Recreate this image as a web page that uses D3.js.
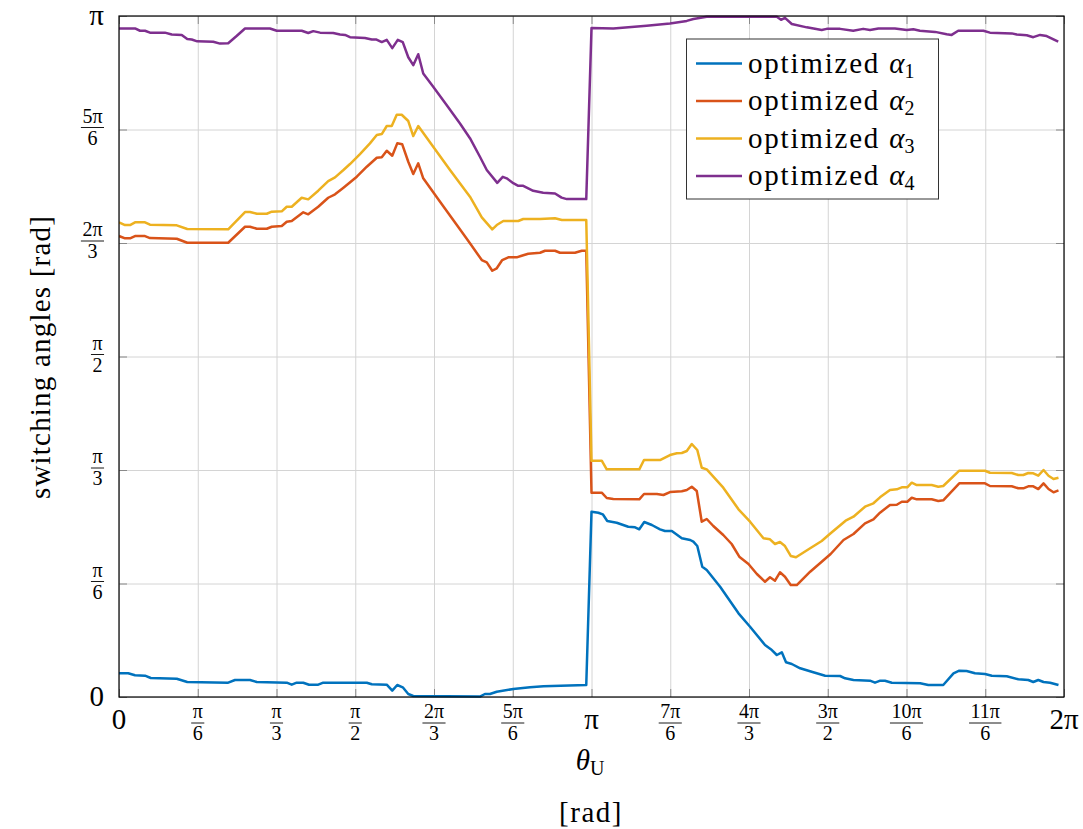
<!DOCTYPE html>
<html>
<head>
<meta charset="utf-8">
<script src="https://cdn.jsdelivr.net/npm/d3@7"></script>
<style>
  body { margin: 0; background: #fff; }
  text { font-family: "Liberation Serif", "DejaVu Serif", serif; fill: #000; }
</style>
</head>
<body>
<svg id="chart" width="1083" height="829"></svg>
<script>
// ---- data (degrees: x = θU, y = switching angle) ----
const xTicks = [0, 30, 60, 90, 120, 150, 180, 210, 240, 270, 300, 330, 360];
const xTickLabels = ["0", "π/6", "π/3", "π/2", "2π/3", "5π/6", "π", "7π/6", "4π/3", "3π/2", "10π/6", "11π/6", "2π"];
const yTicks = [0, 30, 60, 90, 120, 150, 180];
const yTickLabels = ["0", "π/6", "π/3", "π/2", "2π/3", "5π/6", "π"];
const seriesNames = ["optimized α1", "optimized α2", "optimized α3", "optimized α4"];
const seriesColors = ["#0072BD", "#D95319", "#EDB120", "#7E2F8E"];

const alpha1 = [[0,6.26],[3.5,6.26],[6.1,5.74],[9.9,5.63],[12.1,5.02],[22,4.84],[26,3.96],[41.6,3.78],[44.2,4.49],[49.9,4.49],[52.5,3.96],[63.9,3.78],[65.8,3.25],[67.7,3.78],[70.2,3.78],[72.4,3.25],[75.9,3.25],[77.8,3.78],[94.4,3.78],[96.3,3.36],[102,3.25],[104.1,1.67],[106,3.17],[108.1,2.56],[110.2,0.79],[112.1,0.26],[137.5,0.1],[139.4,0.79],[141.3,0.79],[143.9,1.4],[150.2,2.11],[156.6,2.56],[161.7,2.83],[178,3.17],
  [180,48.98],[182.6,48.71],[184.3,48.29],[186,46.52],[189.6,46.07],[194,45.01],[196.6,44.85],[198.2,44.32],[200.1,46.25],[203,45.46],[206.1,44.32],[208,43.87],[210.6,43.87],[214.4,41.95],[217.6,41.5],[218.8,41.05],[220.3,39.91],[222.2,34.44],[223.9,33.57],[229,29.15],[236,22.12],[240.4,18.58],[246.1,13.74],[248.7,12.42],[250.6,11.1],[252.5,11.81],[254.1,9.17],[256.3,8.72],[259.5,7.59],[264.5,6.53],[269,5.63],[274.7,5.55],[276.6,4.94],[279.8,4.49],[286.1,4.31],[288,3.78],[290,4.31],[291.8,4.31],[294.4,3.78],[305.2,3.62],[308.3,3.17],[314,3.17],[317.9,6.26],[320.1,6.95],[322.9,6.87],[326.1,6.26],[329.9,6.08],[332.5,5.63],[338.2,5.47],[342.6,4.68],[346.4,4.49],[348.3,3.96],[350.2,4.49],[352.2,3.96],[354.7,3.78],[357.9,3.17]];

const alpha2 = [[0,121.84],[2.3,121.23],[4.2,121.23],[6.1,121.84],[9.9,121.84],[11.8,121.31],[22,121.13],[26,120.07],[41.6,120.07],[48,124.3],[49.9,124.3],[52.5,123.77],[56.3,123.77],[58.2,124.3],[62,124.49],[63.9,125.62],[65.8,125.81],[70.2,128.11],[72.1,127.58],[75.9,129.59],[79.7,131.96],[82.3,132.86],[85.5,134.61],[90.6,137.52],[94.4,140.16],[98.2,142.54],[100.1,142.64],[102,144.39],[104.1,143.07],[106,146.34],[107.9,146.08],[110.2,141.48],[112.1,138.23],[114,141.06],[115.9,137.09],[122.3,130.91],[128.7,124.75],[133.7,119.91],[138.2,115.5],[140.1,114.89],[142.2,112.67],[143.9,113.31],[146,115.5],[148.3,116.21],[151.5,116.21],[153.4,116.64],[155.9,117.16],[160.4,117.43],[162.3,117.96],[166.1,117.96],[168,117.43],[173.7,117.43],[176.3,117.96],[178,117.96],
  [180,54.0],[183.9,54.0],[185.8,52.6],[188.3,52.33],[198.2,52.25],[200,53.65],[204.9,53.65],[207.4,53.39],[209.9,54.18],[214.4,54.37],[216.3,54.71],[218.2,55.58],[220.1,54.45],[222,46.33],[223.9,47.05],[226.4,45.2],[230.2,42.82],[233.4,40.44],[236.3,37.08],[239.8,35.15],[243,32.51],[246.1,30.47],[248,31.64],[249.9,30.74],[251.8,32.96],[253.7,31.8],[255.9,29.6],[258.2,29.6],[263.3,33.12],[267.7,35.76],[271.1,37.79],[276,41.5],[279.8,43.08],[284.2,45.91],[287.4,46.97],[289.9,48.71],[293.7,50.75],[296.3,50.82],[298.2,51.62],[300.3,51.62],[302,52.67],[303.9,52.25],[309.6,52.25],[312.1,51.8],[314,51.99],[320.1,56.48],[329.9,56.48],[331.8,55.77],[340.1,55.69],[342.6,55.16],[344.5,55.16],[346.4,55.69],[348.3,55.69],[350.2,54.97],[352.2,56.48],[354.1,54.97],[356,54.1],[357.9,54.63]];

const alpha3 = [[0,125.47],[2.3,124.75],[4.2,124.75],[6.1,125.47],[9.9,125.47],[11.8,124.83],[22,124.67],[26,123.69],[41.6,123.61],[48,128.19],[49.9,128.19],[52.5,127.74],[56.3,127.74],[58.2,128.27],[62,128.37],[63.9,129.59],[65.8,129.59],[69.6,131.96],[72.1,131.54],[75.9,133.82],[79.7,136.38],[82.3,137.36],[85.5,139.29],[88,140.87],[91.8,143.51],[95.6,146.34],[98.2,148.54],[100.1,148.8],[102,150.92],[103.9,150.92],[105.8,153.9],[107.7,153.9],[110.2,152.24],[112.1,148.27],[114,150.92],[119.7,145.44],[126.1,139.29],[133.7,132.23],[138.2,126.78],[142.2,123.61],[143.9,124.75],[146.4,125.81],[152.1,125.81],[154,126.34],[160.4,126.34],[166.1,126.52],[168.7,126.07],[178,126.07],
  [180,62.45],[183.9,62.45],[185.8,60.18],[198.2,60.18],[200,62.64],[206.1,62.64],[209.9,63.96],[212.5,64.41],[214.4,64.49],[216.3,65.02],[218.2,66.87],[220.3,65.28],[222,60.6],[223.9,60.18],[230.2,55.32],[236,49.61],[240.4,46.33],[245.5,41.95],[248,41.68],[249.9,40.44],[251.8,40.97],[253.7,39.91],[255.9,37.27],[257.9,36.92],[263.3,39.3],[267.7,41.23],[271.1,43.27],[276.8,46.6],[279.8,47.65],[284.2,50.3],[287.4,51.2],[289.9,52.78],[293.7,54.71],[296.3,54.9],[298.2,55.42],[300.3,55.42],[302,56.64],[303.9,56.03],[309.6,56.03],[312.1,55.58],[314,55.77],[320.1,59.81],[329.9,59.81],[331.8,59.28],[340.1,59.2],[342.6,58.67],[344.5,58.67],[346.4,59.2],[348.3,59.13],[350.2,58.49],[352.2,60.0],[354.1,58.49],[356,57.62],[357.9,57.96]];

const alpha4 = [[0,176.7],[6.1,176.7],[8,176.1],[9.9,176.1],[11.8,175.6],[17.5,175.6],[20.1,175.1],[23.9,175.0],[26,173.9],[27.7,173.8],[29.8,173.3],[35.9,173.2],[38.5,172.7],[41.6,172.8],[44.8,174.7],[48,176.7],[57.5,176.7],[60.1,176.1],[69.6,176.1],[72.1,175.5],[74,176.0],[76.6,175.6],[81.6,175.5],[84.2,175.1],[86.1,175.0],[88,174.4],[93.7,174.2],[96.3,173.8],[97.9,173.8],[100.1,173.1],[102,173.7],[104.1,171.5],[106.2,173.7],[108.1,173.1],[110.2,169.1],[112.1,167.0],[114,169.9],[115.9,164.8],[119.7,161.3],[124.8,156.5],[129.9,151.6],[133.7,147.7],[137.5,142.8],[140.1,139.3],[144.1,135.9],[146.2,137.5],[147.7,137.1],[150.2,135.8],[152.1,135.1],[154,135.1],[157.8,133.8],[161.6,133.3],[166.1,133.1],[168.6,132.0],[170.6,131.6],[178,131.6],
  [180,176.8],[188.3,176.7],[201,177.4],[209.9,178.0],[216.3,178.7],[218.8,179.2],[223.9,179.8],[250.6,179.8],[252.2,179.0],[253.7,179.5],[256.3,177.9],[262,177.0],[267.7,176.3],[269.6,176.6],[274.7,176.6],[279.7,176.1],[283.5,176.6],[286.1,176.3],[289.3,176.7],[295.6,176.7],[300.1,176.3],[302.6,176.5],[305.1,176.1],[310.9,175.8],[315.3,175.2],[317.2,175.0],[319.7,176.1],[329.3,176.1],[331.8,175.6],[340.1,175.4],[342,175.1],[345.8,174.9],[348.3,174.4],[350.9,175.0],[353.4,174.7],[357.8,173.2]];

const allSeries = [alpha1, alpha2, alpha3, alpha4];

// ---- layout ----
const svg = d3.select("#chart");
const m = { left: 119, right: 1064, top: 16, bottom: 697 };
const W = m.right - m.left, H = m.bottom - m.top;

const x = d3.scaleLinear().domain([0, 360]).range([m.left, m.right]);
const y = d3.scaleLinear().domain([0, 180]).range([m.bottom, m.top]);

// gridlines
svg.append("g").attr("transform", `translate(0,${m.bottom})`)
  .call(d3.axisBottom(x).tickValues(xTicks).tickSize(-H).tickFormat(""))
  .call(g => g.select(".domain").remove())
  .call(g => g.selectAll("line").attr("stroke", "#d4d4d4").attr("stroke-width", 1));
svg.append("g").attr("transform", `translate(${m.left},0)`)
  .call(d3.axisLeft(y).tickValues(yTicks).tickSize(-W).tickFormat(""))
  .call(g => g.select(".domain").remove())
  .call(g => g.selectAll("line").attr("stroke", "#d4d4d4").attr("stroke-width", 1));

// short inner ticks on all four sides
const tk = 8, tickCol = "#8a8a8a";
svg.append("g").attr("transform", `translate(0,${m.bottom})`)
  .call(d3.axisBottom(x).tickValues(xTicks).tickSize(-tk).tickFormat(""))
  .call(g => g.select(".domain").remove())
  .call(g => g.selectAll("line").attr("stroke", tickCol));
svg.append("g").attr("transform", `translate(0,${m.top})`)
  .call(d3.axisTop(x).tickValues(xTicks).tickSize(-tk).tickFormat(""))
  .call(g => g.select(".domain").remove())
  .call(g => g.selectAll("line").attr("stroke", tickCol));
svg.append("g").attr("transform", `translate(${m.left},0)`)
  .call(d3.axisLeft(y).tickValues(yTicks).tickSize(-tk).tickFormat(""))
  .call(g => g.select(".domain").remove())
  .call(g => g.selectAll("line").attr("stroke", tickCol));
svg.append("g").attr("transform", `translate(${m.right},0)`)
  .call(d3.axisRight(y).tickValues(yTicks).tickSize(-tk).tickFormat(""))
  .call(g => g.select(".domain").remove())
  .call(g => g.selectAll("line").attr("stroke", tickCol));

// lines
svg.append("clipPath").attr("id", "clip").append("rect")
  .attr("x", m.left).attr("y", m.top - 2).attr("width", W).attr("height", H + 4);
const line = d3.line().x(d => x(d[0])).y(d => y(d[1]));
allSeries.forEach((s, i) => {
  svg.append("path").datum(s)
    .attr("fill", "none").attr("stroke", seriesColors[i])
    .attr("stroke-width", 2.5).attr("stroke-linejoin", "round")
    .attr("clip-path", "url(#clip)")
    .attr("d", line);
});

// frame
svg.append("rect").attr("x", m.left).attr("y", m.top).attr("width", W).attr("height", H)
  .attr("fill", "none").attr("stroke", "#000").attr("stroke-width", 1.2);

const FRAC = 20, BIG = 29;
function fracLabel(g, label, cx, cy) {
  const [num, den] = label.split("/");
  const t1 = g.append("text").attr("x", cx).attr("y", cy - 5).attr("text-anchor", "middle")
    .style("font-size", FRAC + "px").text(num);
  const t2 = g.append("text").attr("x", cx).attr("y", cy + 17).attr("text-anchor", "middle")
    .style("font-size", FRAC + "px").text(den);
  const w = Math.max(t1.node().getComputedTextLength(), t2.node().getComputedTextLength()) + 3;
  g.append("line").attr("x1", cx - w / 2).attr("x2", cx + w / 2)
    .attr("y1", cy).attr("y2", cy).attr("stroke", "#000").attr("stroke-width", 0.9);
}

// x tick labels
const xl = svg.append("g");
xTicks.forEach((v, i) => {
  const lab = xTickLabels[i];
  if (lab.includes("/")) fracLabel(xl, lab, x(v), 723);
  else xl.append("text").attr("x", x(v)).attr("y", 729).attr("text-anchor", "middle")
    .style("font-size", BIG + "px").text(lab);
});

// y tick labels (right-aligned at x=104)
const yl = svg.append("g");
yTicks.forEach((v, i) => {
  const lab = yTickLabels[i];
  if (lab.includes("/")) {
    const [num, den] = lab.split("/");
    const tmp = yl.append("text").style("font-size", FRAC + "px").text(num.length > den.length ? num : den);
    const w = tmp.node().getComputedTextLength() + 3; tmp.remove();
    fracLabel(yl, lab, 104 - w / 2, y(v) - 2);
  } else {
    yl.append("text").attr("x", 104).attr("y", y(v) + 9).attr("text-anchor", "end")
      .style("font-size", BIG + "px").text(lab);
  }
});

// axis titles
const xt = svg.append("text").attr("x", 590).attr("y", 770).attr("text-anchor", "middle")
  .style("font-size", "29px");
xt.append("tspan").style("font-style", "italic").text("θ");
xt.append("tspan").attr("dy", 5).style("font-size", "20px").text("U");
svg.append("text").attr("x", 591).attr("y", 822).attr("text-anchor", "middle")
  .style("font-size", "29px").style("letter-spacing", "1.5px").text("[rad]");
svg.append("text").attr("transform", `translate(50,357) rotate(-90)`).attr("text-anchor", "middle")
  .style("font-size", "29px").style("letter-spacing", "1.2px").text("switching angles [rad]");

// legend
const lg = svg.append("g");
lg.append("rect").attr("x", 686.5).attr("y", 39).attr("width", 252).attr("height", 160)
  .attr("fill", "#fff").attr("stroke", "#333").attr("stroke-width", 1);
const rowY = [63.5, 101, 138.5, 176];
seriesNames.forEach((name, i) => {
  lg.append("line").attr("x1", 696).attr("x2", 742).attr("y1", rowY[i]).attr("y2", rowY[i])
    .attr("stroke", seriesColors[i]).attr("stroke-width", 2.5);
  const parts = name.split(" ");
  const sym = parts[1];
  const t = lg.append("text").attr("x", 748).attr("y", rowY[i] + 9).style("font-size", "29px");
  t.append("tspan").style("letter-spacing", "1.8px").text(parts[0] + " ");
  t.append("tspan").style("font-style", "italic").text(sym[0]);
  t.append("tspan").attr("dy", 5).style("font-size", "20px").text(sym.slice(1));
});
</script>
</body>
</html>
